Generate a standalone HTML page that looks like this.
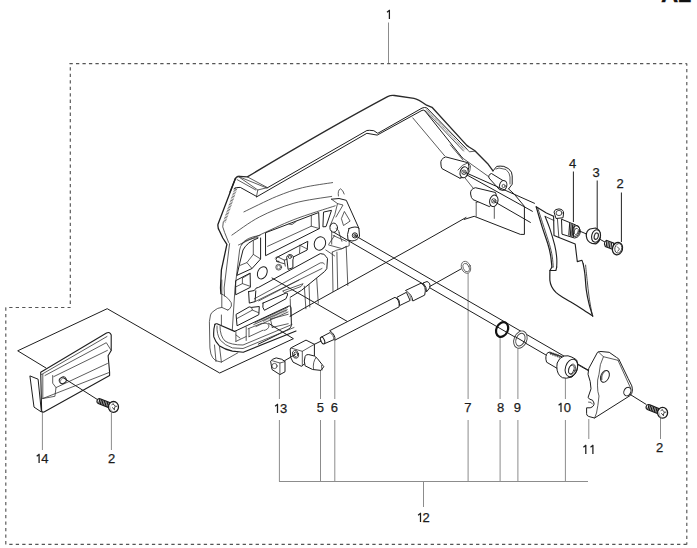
<!DOCTYPE html>
<html><head><meta charset="utf-8"><style>
html,body{margin:0;padding:0;background:#fff;width:697px;height:548px;overflow:hidden}
svg{position:absolute;left:0;top:0}
text{font-family:"Liberation Sans",sans-serif;font-size:13px;fill:#1c1c1c;stroke:#1c1c1c;stroke-width:.25px}
.one{fill:none;stroke:#1c1c1c;stroke-width:1.25}
.k{fill:none;stroke:#1e1e1e;stroke-width:1;stroke-linejoin:round;stroke-linecap:round}
.t{fill:none;stroke:#333;stroke-width:.8;stroke-linejoin:round;stroke-linecap:round}
.w{fill:#fff;stroke:#1e1e1e;stroke-width:1;stroke-linejoin:round}
.g{fill:none;stroke:#8c8c8c;stroke-width:1}
.d{fill:none;stroke:#555;stroke-width:1.15;stroke-dasharray:3.3 3.183}
</style></head><body>
<svg width="697" height="548" viewBox="0 0 697 548">
<!-- A2 heading, cut off at top -->
<text x="661" y="2" style="font-size:24px;font-weight:bold;fill:#111">A2</text>

<!-- dashed boundary -->
<path class="d" d="M69.5 63.6H686.8"/>
<path class="d" style="stroke-dashoffset:1.08" d="M686.8 63.6V544.4"/>
<path class="d" d="M686.8 544.3H5.8"/>
<path class="d" d="M5.8 307.5V544.3"/>
<path class="d" style="stroke-dashoffset:3.08" d="M5.8 307.5H70.3"/>
<path class="d" style="stroke-dashoffset:2.88" d="M70.3 63.6V307.5"/>

<!-- leader lines -->
<g class="g">
<path d="M388.5 22.5V63"/>
<path style="stroke:#222" d="M573.4 171.5V222M597.2 180.5V229M621.4 192.5V242"/>
<path d="M279.4 375V399M279.4 420V481.5M320.5 370V399M320.5 420V481.5M334.8 340V399M334.8 420V481.5"/>
<path d="M468.1 273V399M468.1 420V481.5M500.1 337V399M500.1 420V481.5M517.9 348V399M517.9 420V481.5M565.4 377V399M565.4 420V481.5"/>
<path d="M279 481.5H588M423.5 481.5V507"/>
<path d="M588.8 419V439"/>
<path d="M660.5 418V439"/>
<path d="M42.4 411.5V450"/>
<path d="M111.4 413V450"/>
</g>

<!-- labels -->
<g class="lbl">
<path class="one" d="M389.4 9.9V19M389.79999999999995 10.1L387.0 12.3"/>
<text x="568.9" y="168">4</text>
<text x="592.4" y="177">3</text>
<text x="616.4" y="188">2</text>
<path class="one" d="M277.5 403.9V413M277.9 404.1L275.1 406.3"/>
<text x="279.9" y="413">3</text>
<text x="316.8" y="412">5</text>
<text x="330.8" y="412">6</text>
<text x="464.3" y="412">7</text>
<text x="497.0" y="412">8</text>
<text x="513.7" y="412">9</text>
<path class="one" d="M561.0 402.9V412M561.4 403.1L558.6 405.3"/>
<text x="563.8" y="412">0</text>
<path class="one" d="M585.8 444.9V454M586.1999999999999 445.1L583.4 447.3"/>
<path class="one" d="M592.9 444.9V454M593.3 445.1L590.5 447.3"/>
<text x="656.1" y="452">2</text>
<path class="one" d="M420.5 512.9V522M420.9 513.1L418.1 515.3"/>
<text x="422.6" y="522">2</text>
<path class="one" d="M39.1 453.9V463M39.5 454.1L36.7 456.3"/>
<text x="41.2" y="463">4</text>
<text x="108.1" y="463">2</text>
</g>

<!-- assembly outline polygon -->
<path class="k" d="M46 368L17.7 350.8L107.2 308.7L219.7 373L293.4 338.7L268.6 323.4"/>

<g id="housing">
<!-- top bar outer top edge -->
<path class="k" style="stroke-width:1.35;stroke:#2a2a2a" d="M230 192L235.5 178.3Q237 176.2 239.5 176.3L247.3 176.9C290 151.2 340 122 387.6 96.6Q391 95 394.4 95.5L414 98.3Q418 99 426.6 105.2L432 107.3L466.8 145.4L469.4 147.3L474.6 150.5L487.5 163.4L493 170.9"/>
<!-- end face of bar -->
<path class="t" d="M247.4 176.9L267.4 187.6L257.8 190L238.4 176.6M239.7 177L266.8 188M237.1 179.6L255.8 190M257.8 190L256.5 196.4"/>
<path class="k" d="M234 188.8Q236 187 240.3 187.4L256.5 196.4"/>
<!-- bar lower double line + notch -->
<path class="k" d="M267.4 187.8L366.9 130.5Q369 130 373.8 130.7L377.8 133.3L422 108.1Q424.5 107 426.8 107.9L466.8 149"/>
<path class="k" d="M256.4 197L366.9 133.3L377.2 135.1L422 110.4Q424 109.6 425 111L462.3 157.8"/>
<path class="t" d="M425 110.5L463.5 151M466.8 149L469.4 151.8L474.6 151.2"/>
<path d="M426.3 109.6L465 150" style="fill:none;stroke:#666;stroke-width:1.8;stroke-dasharray:.5 .8"/>
<!-- line from bar to boss1 -->
<path class="t" d="M412.8 117.9L444.8 156"/>
<!-- left outer edge -->
<path class="k" style="stroke-width:1.3" d="M235.5 178.3L218 224.2Q217.5 228 219.5 231L222.8 238L226.9 244.4L221.4 269.9L220.5 288L220.9 293.7"/>
<path class="t" d="M223.2 222Q221.5 226.7 224.6 232.4L228.7 242.6L229.6 243.5L224.1 288L224.5 296"/>
<path d="M236.2 187.5L224.4 222" style="fill:none;stroke:#555;stroke-width:2.8;stroke-dasharray:.7 .8"/>
<path class="t" d="M220.9 293.7Q223 294 228.7 299.2Q232.5 303 231.4 306Q230 309.5 227.8 310.1M221.8 280V307.4"/>
<!-- arcs on front face -->
<path class="t" d="M243.9 211.9C249.4 209.3 266.9 200.4 276.7 196.4C286.5 192.4 293.2 190.0 302.5 187.7C311.8 185.4 327.6 183.4 332.6 182.6"/>
<path class="t" d="M231.9 235.1C236.5 232.1 249.1 222.3 259.4 217.0C269.7 211.7 281.8 206.6 293.9 203.2C305.9 199.8 325.4 197.5 331.7 196.4"/>
<path class="t" d="M238.5 245.0C242.0 243.3 250.2 239.3 259.4 235.1C268.6 230.9 281.3 224.5 293.9 219.6C306.5 214.7 328.3 208.1 335.2 205.8"/>
<!-- big window -->
<path class="k" d="M265.9 232.6L318.7 212.5L319.3 228.6L265.9 255.5Z"/>
<path class="t" d="M267.6 246.3L311.3 226.2V215.3M311.3 226.2L319.3 228.6"/>
<path class="t" d="M289 224L292 224.5L296 221.6"/>
<!-- slot right of window -->
<path class="k" d="M323.9 212L331.5 210.3L326 226.6L323.3 226.8Z"/>
<!-- circle right -->
<ellipse class="k" cx="319.9" cy="243.5" rx="5.6" ry="6.8" transform="rotate(20 319.9 243.5)"/>
<!-- middle slot -->
<path class="k" d="M279 256.3Q276 257 276 259.5Q276.5 262 279 261.5M279 256.3L307.8 241.3L307.2 250L292.9 257.2"/>
<path class="t" d="M300 245.3L307.2 249M300 245.3L299.5 253"/>
<!-- right bracket area -->
<path class="t" d="M338.4 196Q337.5 190 340.5 188.8Q343 190 344.2 194"/>
<path class="k" d="M331.5 199.2L339 198.5L346.3 200.3L358.9 228.3"/>
<path class="t" d="M331.5 199.2L337.5 203.6L334.8 214.6L330 226M337.5 203.6L343 205L336 217"/>
<path class="t" d="M344.6 211.8L350.1 221.1L343.5 225.5L341.5 219Z"/>
<ellipse class="k" cx="333.7" cy="227.7" rx="3.8" ry="4.6"/>
<path class="t" d="M331.7 231V244.2M333.1 235.5L346.3 241.3M339 232.6L341.9 241.3M328.8 245L341.9 248.6L349.2 245.7V240.5M334.6 235.5L328.8 244.2M325.8 250L334.6 255.9M336 228.5Q339.5 230 339.5 233"/>
<path class="k" d="M349 228.5Q356 225.5 358.9 228.3L359.5 236Q358 240.5 352 241L348 240Q346.5 235 349 228.5Z"/>
<circle class="k" cx="354.9" cy="235.4" r="2.6"/>
<circle class="t" cx="354.9" cy="235.4" r="1.2"/>
<!-- side wall ribs -->
<path class="t" d="M332.3 252.1L333 291.5M336.9 252.1L337.7 289.5M346.2 246.4L347.8 285.5M332.3 252.1Q337 249.5 341.6 249L346.2 246.4"/>
<path class="t" d="M304.3 286.2L305.9 308.8M309 284.7L309.8 307M316.7 278.5L318.3 303.3"/>
<!-- inner frame (left) -->
<path class="t" d="M257.9 237.5Q247 239 243 243Q240 246 239.6 250L235 288L232.3 330"/>
<path class="t" d="M260 235.5Q246 237 241.5 244.4"/>
<!-- W1 -->
<path class="k" d="M257.9 238.2Q247 242 243 250L240 262L236.9 275.4L252 268.5L260.6 259L260.6 238"/>
<path class="t" d="M253.3 240.7V254.4L260.6 259M253.3 254.4L246.9 262.6L240 265.4M246.9 262.6L252 268.5"/>
<ellipse class="k" cx="262.3" cy="272.8" rx="4.6" ry="6.4" transform="rotate(25 262.3 272.8)"/>
<!-- W2 -->
<path class="k" d="M236 280.5L250.1 273.1L250.4 287.3L236 294.6Z"/>
<path class="t" d="M242.4 278.1V283.6L250.4 286.4M242.4 283.6L236 286.8M242.4 278.1L250.1 273.6"/>
<circle class="t" cx="278.7" cy="267.2" r="2.9"/>
<circle class="t" cx="278.7" cy="267.2" r="1.8" style="stroke:#666"/>
<!-- rail -->
<path class="k" d="M248.6 291.6L254.3 290.5Q255.5 287.5 258.7 287.3L320.3 253.6Q324.5 253.5 326.1 256.5L327.5 258.6L326.8 268.7L324.6 271.5L301.7 290.2L290.2 297.3"/>
<path class="k" d="M248.6 291.6L249.3 303.1L255.1 301.6L255.8 290.9"/>
<path class="t" d="M255.1 301.6L322 268.5M254.3 298.8L320.3 262.9Q323.5 262 324.6 264M258.7 300.9L299 280"/>
<path class="t" d="M283 290.9L303.1 283.7L301 286.5L285 292.5Z"/>
<path class="k" d="M263 303.1L286 293Q288 292.5 287.5 295L285.9 298.8L264.4 310.3Q262 308 263 303.1Z"/>
<!-- W3 -->
<path class="k" d="M236.4 314.2L249.2 306.9L251.5 307.4L259.3 306.5L258.8 314.7L237.4 325.6Z"/>
<path class="t" d="M251.5 307.4L252.4 310.1L258.8 312.8M252.4 310.1L237 318.5"/>
<!-- grille & lower box -->
<path class="t" d="M253.7 324.6L287.2 309.7M255 322.5L287.5 307.5M256 326.5L288 312"/>
<path d="M263 320.8L287 310" style="fill:none;stroke:#555;stroke-width:2.4;stroke-dasharray:.5 .7"/>
<path class="k" d="M234.6 331.4L289.1 305.9Q291 305.5 291 308L291.4 325.5Q291 328 288 329.5L258.3 344.2"/>
<path class="t" d="M235.9 331.1V341.4M246.2 327V340.5M235.9 341.4L246.2 336.5M236 335L240 338M248.1 328.8L262 323.2M249 336.7L263 330.2M249 328.8V336.7M270.4 319L288.2 314.3M272.3 327.4L288.2 323.7M270.4 319L272.3 327.4"/>
<path class="t" d="M263 323.5Q268 322 269 326Q268.5 329.5 264 330.5"/>
<!-- side wall ribs lower -->
<path class="t" d="M290.2 298.8L290.9 316.5"/>
<!-- lower foot -->
<path class="t" d="M227.8 310.1L221.8 307.4Q217 308 215 310.1Q210.5 313 210.5 315L209.4 321.6L209.9 347.9Q210.5 355 212.7 357.7Q215 360.5 217 361L221.4 362.1L237.9 352.8"/>
<path class="k" style="stroke-width:1.15" d="M214.9 324.3Q215.5 323.5 217 323.8L234.6 331.4"/>
<path class="k" style="stroke-width:1.15" d="M214.9 324.3Q213.2 330 213.8 336.9Q215.5 342 219.2 345.7Q225 349.5 232.4 351.1L243.3 352.2L296 331"/>
<path class="t" d="M217 326Q216.5 334 220.3 340.2Q225 345.5 232.4 347.9L243 348.5L294 327.5M220 326.5Q220 336 225 341Q231 345 243 345L292 324.5"/>
<path class="t" d="M221.4 315V324.9M216 361.5L214.5 345M221.4 362.1L219.5 346.5"/>
<!-- arm lower portion & plate -->
<path class="k" d="M493 170.9L496.7 166.4Q500 165.8 503.8 166.4L508.6 168.7Q512.5 172 512.2 175.9L512.2 184.2L508.6 188.9"/>
<path class="t" d="M496 169L499 168L506 169.5Q510 173 510 177L510 184"/>
<path class="k" d="M508.6 188.9L514.4 194.3L524.4 206.3L524.4 234.4L520.4 234.4L474.2 216.3L464.2 219.4"/>
<path class="t" d="M476.2 202.3V216.3M494.3 204.3V218.4M476.2 202.3Q485 199 494.3 204.3"/>
<path class="t" d="M462.3 157.8L490.8 178.2M450.4 145L463 160"/>
<path class="t" d="M465.2 178.2L473.2 188.2"/>
<!-- boss 1 -->
<path class="w" d="M445.7 156.9Q440 159 440.9 164Q441 167.5 442.1 168.7L459.9 178.2L466 176L469 167L468.2 162.8Z"/>
<path class="t" d="M458 170Q462 164 468.2 162.8L470.5 166Q471 171 466.5 176L459.9 178.2"/>
<ellipse class="w" cx="464.1" cy="172.3" rx="4" ry="5.6" transform="rotate(15 464.1 172.3)"/>
<circle class="t" cx="464" cy="172.3" r="2.3"/>
<path class="t" d="M462.5 170.8L465.5 173.8M465.5 170.8L462.5 173.8"/>
<!-- boss 2 -->
<path class="w" d="M489 178Q488 174.5 491.5 173.5L503.2 180.7L505 190L499.5 189.7Z"/>
<ellipse class="w" cx="503.2" cy="185.4" rx="3.6" ry="4.9" transform="rotate(15 503.2 185.4)"/>
<circle class="t" cx="503.6" cy="186" r="1.6"/>
<!-- boss 3 -->
<path class="w" d="M475.4 187.7Q470 189 470.6 194Q471 198 473 199.6L489.6 206.7L496.5 196L495.5 192.5Z"/>
<ellipse class="w" cx="493.8" cy="200.8" rx="4.1" ry="5.8" transform="rotate(15 493.8 200.8)"/>
<circle class="t" cx="493.8" cy="200.9" r="2.2"/>
<path class="t" d="M492.3 199.4L495.3 202.4M495.3 199.4L492.3 202.4"/>
<!-- bars from bosses to part 4 -->
<path class="k" d="M466 172.8L534.5 203.3M467 175L532.4 211.3M495 202L530.4 222.4"/>
<!-- housing long bottom edge -->
<path class="k" d="M466 217.5L420 243.6L318.2 300.2L290 316.3"/>
<!-- keyhole -->
<path class="w" d="M286.9 259.3A3.4 3.4 0 1 1 292.9 259.8L292.9 267.7L288.1 269.4Z"/>
<circle class="t" style="stroke:#222" cx="289.9" cy="257" r="1.5"/>
<path class="t" style="stroke:#222" d="M275.3 258.1Q276 256.5 278 257L284.3 260.1L285.3 266.1M276.5 261.5L284.5 263.8M284.3 260.1L287 259.3"/>
</g>
<g id="parts">
<!-- long assembly lines -->
<path class="k" d="M354.9 235.5L588.5 370.2"/>
<path class="k" d="M334 232.4L547 355.6"/>
<path class="k" d="M272 278L346.9 321.2"/>
<!-- rod part 6 -->
<path class="w" d="M329.7 330.7L395 297.3Q400 300 399.1 306.9L334.8 340.2Q336 335 329.7 330.7Z"/>
<path class="w" d="M396.9 297.3L406.4 292.3L410.1 300.5L399.6 305.6Q400 300 396.9 297.3Z"/>
<path class="w" d="M405.5 290.5L421 283.2Q427 286 424.7 295.1L412.8 301Q412 294 405.5 290.5Z"/>
<path class="t" style="stroke:#999;stroke-width:1.4" d="M407 291.5Q411 295 411 300"/>
<path class="w" d="M423 283L427 281.5Q431 283 429.7 287.8L426.5 291.9Q427 287 423 283Z"/>
<path class="w" d="M320.9 337.3L330.1 332.5Q334 335 334.1 339.5L324.2 343.8Z"/>
<ellipse class="w" cx="322.6" cy="340.5" rx="1.8" ry="3.6" transform="rotate(-25 322.6 340.5)"/>
<path class="t" style="stroke:#999" d="M330.5 332.5Q334 334.5 334 339"/>
<!-- ring 7 line -->
<path class="k" d="M429.7 286.5L461 269"/>
<ellipse class="t" style="stroke:#555" cx="466" cy="267.3" rx="4.5" ry="6.2" transform="rotate(-22 466 267.3)"/>
<ellipse class="t" style="stroke:#555" cx="466.2" cy="267.6" rx="2.9" ry="4.4" transform="rotate(-22 466.2 267.6)"/>
<!-- ring 8 O-ring -->
<ellipse cx="502.1" cy="329.5" rx="5.7" ry="7.6" transform="rotate(25 502.1 329.5)" style="fill:none;stroke:#111;stroke-width:2.2"/>
<!-- washer 9 -->
<ellipse cx="520.4" cy="339.6" rx="6.3" ry="9" transform="rotate(22 520.4 339.6)" style="fill:#fff;stroke:#444;stroke-width:.9"/>
<ellipse cx="520.4" cy="339.6" rx="4.3" ry="6.6" transform="rotate(22 520.4 339.6)" style="fill:none;stroke:#444;stroke-width:.9"/>
<path class="k" d="M515 336.6L526 343"/>
<!-- part 13 -->
<path class="w" d="M270.6 361.1Q272 359 276.2 357.9L281.8 359.3L285 361.6L285 371.8L279.9 374.6L272 369.5Z"/>
<path class="t" d="M271.5 360.5L279.9 363L285 361.6M279.9 363V374.6"/>
<circle class="t" cx="274.5" cy="366" r="2.6"/>
<!-- part 5 -->
<path class="w" d="M290.2 349Q291 347.5 293 346.8L306 340.1L314.4 344.3V356L301.4 366.3L293 362.1L290.7 357.4Z"/>
<path class="t" d="M291 348L302.3 351.3L314.4 344.3M302.3 351.3V365.8"/>
<ellipse class="t" style="stroke:#222" cx="295.5" cy="354.3" rx="3" ry="4" transform="rotate(-15 295.5 354.3)"/>
<ellipse class="t" cx="295.8" cy="354.5" rx="1.8" ry="2.6" transform="rotate(-15 295.8 354.5)"/>
<path class="w" d="M305.1 356.5Q306 354 308.8 354.6L314.4 356L317.2 358.3L323.8 366.7L321 370.4L312.6 369.5L305.1 365.8Q303.5 361 305.1 356.5Z"/>
<path class="t" d="M316 357.5Q312.5 362 313.5 369.5M321.5 365.5L322 370"/>
<path class="k" d="M314.4 344.3L321 341.1"/>
<path class="k" d="M284.6 360.7L295.6 354.3"/>

<!-- screw symbol -->
<defs>
<g id="scr">
<g transform="rotate(22)">
<path d="M-4.5 -2.6L-14.8 -2.6Q-17.6 -2.6 -17.6 0Q-17.6 2.6 -14.8 2.6L-4.5 2.6Z" style="fill:#fff;stroke:#1a1a1a;stroke-width:1.1"/>
<path d="M-15.6 -2.4L-14.9 2.4M-13.9 -2.5L-13.2 2.5M-12.2 -2.5L-11.5 2.5M-10.5 -2.5L-9.8 2.5M-8.8 -2.5L-8.1 2.5M-7.1 -2.5L-6.4 2.5M-5.4 -2.5L-4.9 2.5" style="stroke:#1a1a1a;stroke-width:1.25"/>
</g>
<ellipse cx="0" cy="0" rx="5" ry="5.4" style="fill:#fff;stroke:#1a1a1a;stroke-width:1.3"/>
<path d="M-4 -1.5Q-3.6 2.8 -1.2 4.6" style="fill:none;stroke:#bbb;stroke-width:1.2"/>
<path d="M-0.5 -3L1.8 -0.8L0.5 2.6M1.8 -0.8L3.6 -0.5M-1.4 0.5L1.5 3.2M-2 -2L0 -3.5" style="fill:none;stroke:#444;stroke-width:1"/>
</g>
</defs>
<!-- part 10 -->
<path class="w" d="M548 352.3Q544.5 356 546.6 362.2L557.2 368.4L564 358L562.6 357Z"/>
<path d="M550 352.5L562 356.5M549.8 351.3L551 355M551.5 352L552.7 355.6M553.2 352.6L554.4 356.2M554.9 353.2L556.1 356.8M556.6 353.8L557.8 357.4M558.3 354.4L559.5 358" style="stroke:#333;stroke-width:.8"/>
<path class="w" d="M564.1 356Q559 357.5 557.2 363Q555.8 371 559.7 375.7Q562 378.5 566.3 378.2L572 377Q578.5 372 577.6 363.2Q577 359 575 358.9L572 357.2Q568 355 564.1 356Z"/>
<ellipse class="k" cx="571.4" cy="367.9" rx="5.9" ry="9" transform="rotate(18 571.4 367.9)"/>
<ellipse class="t" cx="572" cy="369.3" rx="3.3" ry="5.3" transform="rotate(18 572 369.3)"/>
<ellipse class="t" cx="571.3" cy="369.6" rx="2.6" ry="4.6" transform="rotate(18 571.3 369.6)"/>
<path class="k" d="M577.5 364.5L588 370.5"/>
<!-- part 11 -->
<path class="w" d="M597.5 352.3Q599 351.5 601 351.5L609.2 352.3L616.5 357.4L618.7 358.9L628.2 378.6L631.8 385.9Q633.5 392 630.4 395.4L594.6 418L588.8 416.5Q586.3 415.5 586.6 413.6L586.6 407.8L590.2 407.8Q594.5 406.5 594 403Q593 399.2 590 399.3L588 397.6L591 388.8L590.2 381.5L588 374.2L588.8 368.4Z"/>
<path class="t" d="M598.5 352L603.4 356.7L618 360.3M603.4 356.7Q599.5 364 599 374.2Q597 380 597.5 385.9Q597.5 392 599 396Q598 406 596.5 413L594.6 418M618 360.3L631 389"/>
<path class="t" d="M588.5 402Q591.5 401.5 592.5 404"/>
<ellipse class="k" cx="604.9" cy="376.4" rx="4" ry="6.2" transform="rotate(25 604.9 376.4)"/>
<path d="M601.6 380Q600.8 374 605 370.8" style="fill:none;stroke:#666;stroke-width:1.6"/>
<ellipse class="k" cx="627.4" cy="391.6" rx="3.4" ry="4.4" transform="rotate(25 627.4 391.6)"/>
<path class="k" d="M630.4 394.6L646 404.3"/>
<use href="#scr" x="662.6" y="412.8"/>
<!-- part 14 screw -->
<!-- part 14 -->
<path class="w" d="M29.9 375.9L38.1 379.2L41.4 412L34 407.1Z"/>
<path class="w" style="stroke-width:1.1" d="M40.7 372.3L106.5 333Q110 331.5 111.2 335L111.2 350.4L108.1 355.8L109.6 372.3L109.6 375.5L44 412Q41.5 412.5 41.6 410L40.7 372.3Z"/>
<path class="t" d="M41.5 374.5L107 336.5M45 375.5L106.3 342.7L111.2 350.4M53.8 376.6L107.4 350.4M56 387.6L107.4 363.5M42.8 398.5L109.6 372.3M42.8 374.4L42.8 398.5M52.7 375.5L52.7 383.2L56 387.6L54.9 396.3L42.8 398.5"/>
<ellipse class="k" cx="62.8" cy="380.3" rx="3.6" ry="3.1" transform="rotate(-30 62.8 380.3)"/>
<path d="M60 382Q61 378 65 377.5" style="fill:none;stroke:#999;stroke-width:1.2"/>
<path class="k" d="M63.6 378L97 399.3"/>
<use href="#scr" x="113.5" y="406.9"/>


<!-- part 4 -->
<path d="M536.2 206.8 L546.4 213.0 L554.0 215.8 L562.9 219.2 L575.2 224.7 L577.3 261.6 L583.2 263.9 L592.7 316.1 L563.0 297.6 L549.9 280.5 L549.9 270.5 L551.9 267.1 L542.3 227.4Z" style="fill:#fff;stroke:none"/>
<path class="k" style="stroke-width:1.2" d="M536.2 206.8C537.2 210.3 540.4 221.2 542.3 227.4C544.3 233.6 546.4 239.3 547.8 243.8C549.2 248.4 549.9 250.9 550.5 254.8C551.2 258.7 551.7 265.1 551.9 267.1"/>
<path class="t" style="stroke:#222" d="M537.9 208.5C538.9 211.6 542.1 221.4 544.0 227.4C545.9 233.4 548.1 239.7 549.5 244.5C550.8 249.3 551.6 252.4 552.2 256.2C552.8 259.9 553.1 265.3 553.3 267.1"/>
<path class="k" style="stroke-width:1.1" d="M545.1 216.4C545.9 218.5 548.3 224.0 549.9 228.8C551.5 233.6 553.5 240.4 554.7 245.2C555.8 250.0 556.4 253.9 556.7 257.5C557.1 261.2 556.7 265.5 556.7 267.1"/>
<path class="k" style="stroke-width:1.1" d="M536.2 206.8 L546.4 213.0 L553.6 216.2"/>
<path class="k" style="stroke-width:1.1" d="M553.6 216.2 L554.0 235.6 L575.2 244.1 L577.3 261.6 L582.0 260.3 L583.2 263.9"/>
<path class="t" style="stroke:#222" d="M557.4 218.5 L558.8 237.0 M545.1 216.4 L554.0 220.5"/>
<path class="k" style="stroke-width:1.2" d="M583.2 263.9C583.5 265.5 584.3 269.0 584.8 273.4C585.4 277.7 585.6 284.8 586.3 290.0C587.0 295.1 588.0 299.9 589.1 304.2C590.2 308.6 592.1 314.1 592.7 316.1"/>
<path class="k" style="stroke-width:1.2" d="M592.7 316.1C590.9 314.9 585.4 311.2 582.0 309.0C578.6 306.8 575.7 305.0 572.5 303.1C569.3 301.2 565.8 299.4 563.0 297.6C560.2 295.8 557.8 294.2 555.9 292.4C554.0 290.5 552.6 288.4 551.6 286.4C550.6 284.4 550.2 283.1 549.9 280.5C549.7 277.8 549.9 272.2 549.9 270.5"/>
<path class="t" style="stroke:#222" d="M585.6 265.1C585.8 267.6 586.6 275.1 587.2 280.5C587.8 285.8 588.3 291.6 589.1 297.1C589.9 302.7 591.5 311.0 592.0 313.7"/>
<path class="k" style="stroke-width:1.1" d="M549.9 270.5 L551.9 267.1 M556.7 267.1 L555.9 270.5 L549.9 270.5"/>
<!-- boss on part 4 -->
<path class="w" d="M554 212Q554.5 208.9 559 208.9Q563.6 209.5 563.6 213L563 217.8L556 218.5Z"/>
<ellipse class="t" style="stroke:#222" cx="559" cy="213" rx="3" ry="2.6"/>
<!-- spring -->
<path class="w" d="M561.5 219.2L575 224.7Q580.5 227 580.3 232Q579.5 237.5 574.5 238L562 234.2Z"/>
<path d="M569.7 223L568.8 235.5M571.2 223.6L570.3 236.2M572.7 224.2L571.8 236.8M574.2 224.8L573.3 237.3" style="stroke:#222;stroke-width:1.1"/>
<ellipse class="k" cx="575.9" cy="231" rx="3.6" ry="5.4" transform="rotate(15 575.9 231)"/>
<ellipse class="t" cx="576.3" cy="231.4" rx="2" ry="3.2" transform="rotate(15 576.3 231.4)"/>
<path class="k" d="M579.5 231L586.5 234"/>
<!-- part 3 -->
<path class="w" style="stroke-width:1.2" d="M590 229Q586 231 586.3 236Q587 242 592 243.4L596 243.8Q600.5 241 600.5 235.5Q600 229 595.5 228Z"/>
<ellipse class="w" style="stroke-width:1.1" cx="596" cy="236" rx="4.3" ry="6.3" transform="rotate(15 596 236)"/>
<ellipse cx="596.3" cy="236.2" rx="2" ry="3.3" transform="rotate(15 596.3 236.2)" style="fill:#fff;stroke:#333;stroke-width:1.2"/>
<path class="k" d="M599.8 239.2L605 242.1"/>
<!-- part 2 screw (pan head) -->
<path d="M605 241.5Q603.8 243.5 605.3 246.5L612.5 249.3L613.8 243.2L606.5 240.3Z" style="fill:#fff;stroke:#1a1a1a;stroke-width:1.1"/>
<path d="M606.8 240.8L606.3 246.6M608.4 241.4L607.8 247.3M610 242L609.4 247.9M611.6 242.6L611 248.5" style="stroke:#222;stroke-width:1.1"/>
<ellipse cx="617.5" cy="248.6" rx="5" ry="6.3" transform="rotate(15 617.5 248.6)" style="fill:#fff;stroke:#1a1a1a;stroke-width:1.3"/>
<ellipse cx="618.3" cy="248.3" rx="3.4" ry="4.8" transform="rotate(15 618.3 248.3)" style="fill:none;stroke:#444;stroke-width:.9"/>
<path d="M617 246.5L619.5 249L617.5 251.5" style="fill:none;stroke:#444;stroke-width:.9"/>
</g>
</svg>
</body></html>
